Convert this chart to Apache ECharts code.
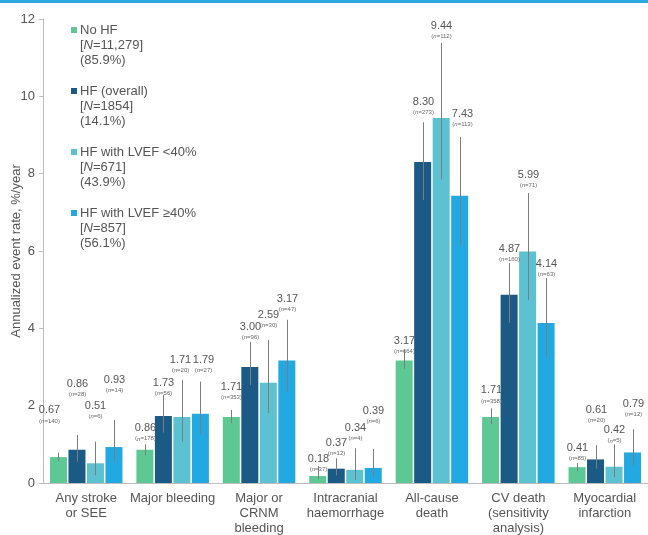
<!DOCTYPE html>
<html>
<head>
<meta charset="utf-8">
<script src="https://cdn.jsdelivr.net/npm/echarts@6/dist/echarts.min.js"></script>
<style>
  html, body { margin: 0; padding: 0; background: #ffffff; }
  #chart { width: 648px; height: 535px; }
</style>
</head>
<body>
<div id="chart"></div>
<script>
// Outcome categories on the x axis
const categories = [
  'Any stroke\nor SEE',
  'Major bleeding',
  'Major or\nCRNM\nbleeding',
  'Intracranial\nhaemorrhage',
  'All-cause\ndeath',
  'CV death\n(sensitivity\nanalysis)',
  'Myocardial\ninfarction'
];

// Patient groups (legend)
const groupNames = ['No HF', 'HF (overall)', 'HF with LVEF <40%', 'HF with LVEF \u226540%'];
const groupN = ['11,279', '1854', '671', '857'];
const groupPct = ['85.9%', '14.1%', '43.9%', '56.1%'];

// Annualized event rates, %/year
const rateNoHF = [0.67, 0.86, 1.71, 0.18, 3.17, 1.71, 0.41];
const rateHF   = [0.86, 1.73, 3.00, 0.37, 8.30, 4.87, 0.61];
const rateLow  = [0.51, 1.71, 2.59, 0.34, 9.44, 5.99, 0.42];
const rateHigh = [0.93, 1.79, 3.17, 0.39, 7.43, 4.14, 0.79];

// 95% confidence interval bounds
const ciLoNoHF = [0.57, 0.72, 1.55, 0.10, 2.95, 1.52, 0.31];
const ciHiNoHF = [0.79, 1.00, 1.89, 0.44, 3.45, 1.93, 0.52];
const ciLoHF   = [0.55, 1.30, 2.53, 0.20, 7.32, 4.14, 0.37];
const ciHiHF   = [1.24, 2.28, 3.65, 0.64, 9.33, 5.69, 0.98];
const ciLoLow  = [0.20, 1.07, 1.81, 0.08, 7.85, 4.73, 0.15];
const ciHiLow  = [1.07, 2.66, 3.70, 0.90, 11.38, 7.50, 1.00];
const ciLoHigh = [0.55, 1.24, 2.36, 0.15, 6.15, 3.25, 0.45];
const ciHiHigh = [1.63, 2.62, 4.22, 0.88, 8.95, 5.30, 1.39];

// Number of events
const eventsNoHF = [140, 178, 353, 37, 664, 358, 85];
const eventsHF   = [28, 56, 96, 12, 273, 160, 20];
const eventsLow  = [6, 20, 30, 4, 112, 71, 5];
const eventsHigh = [14, 27, 47, 6, 113, 63, 12];

// Y axis ticks
const yTicks = { min: 0, max: 12, step: 2 };

const colors = ['#5dc894', '#1a5a85', '#5cc1d1', '#22a9e1'];
const FONT = '"Liberation Sans", Arial, sans-serif';

const rates = [rateNoHF, rateHF, rateLow, rateHigh];
const ciLo = [ciLoNoHF, ciLoHF, ciLoLow, ciLoHigh];
const ciHi = [ciHiNoHF, ciHiHF, ciHiLow, ciHiHigh];
const events = [eventsNoHF, eventsHF, eventsLow, eventsHigh];

// Annotation placement: how far (px) each value label sits above its whisker,
// one row per group, one entry per outcome
const labelRise = [
  [42, 16, 23, 7, 9, 18, 15],
  [51, 12, 15, 15, 20, 14, 35],
  [36, 20, 25, 20, 17, 18, 14],
  [40, 22, 21, 38, 23, 14, 25]
];
const labelShift = [
  [-9, 0, 0, 0, 0, 0, 0],
  [0, 0, 0, 0, 0, 0, 0],
  [0, -2, 0, 0, 0, 0, 0],
  [0, 3, 0, 0, 2, 0, 0]
];

const BAR_W = 17;
const GAP = 1.5;
const PITCH = BAR_W + GAP;

const chart = echarts.init(document.getElementById('chart'), null, { renderer: 'canvas' });

const barSeries = rates.map((vals, s) => ({
  type: 'bar',
  name: groupNames[s],
  data: vals,
  barWidth: BAR_W,
  barGap: (GAP / BAR_W * 100).toFixed(2) + '%',
  barCategoryGap: '15%',
  itemStyle: { color: colors[s] },
  silent: true,
  z: 2
}));

const whiskerSeries = rates.map((vals, s) => ({
  type: 'custom',
  name: groupNames[s] + ' CI',
  silent: true,
  z: 5,
  data: vals.map((v, i) => [i, ciLo[s][i], ciHi[s][i], v, events[s][i]]),
  renderItem: function (params, api) {
    const ci = api.value(0);
    const lo = api.coord([ci, api.value(1)]);
    const hi = api.coord([ci, api.value(2)]);
    const x = Math.round(lo[0] + (s - 1.5) * PITCH) + 0.5;
    const labelY = hi[1] - labelRise[s][ci];
    const lx = x + labelShift[s][ci];
    return {
      type: 'group',
      children: [
        {
          type: 'line',
          shape: { x1: x, y1: lo[1], x2: x, y2: hi[1] },
          style: { stroke: '#7d7d7d', lineWidth: 1 }
        },
        {
          type: 'text',
          style: {
            x: lx, y: labelY,
            text: api.value(3).toFixed(2),
            align: 'center', verticalAlign: 'middle',
            fill: '#555555',
            font: '11px ' + FONT
          }
        },
        {
          type: 'text',
          style: {
            x: lx, y: labelY + 10.5,
            text: '{p|(}{i|n}{p|=' + api.value(4) + ')}',
            align: 'center', verticalAlign: 'middle',
            rich: {
              p: { fontSize: 6, fontFamily: FONT, fill: '#666666', color: '#666666' },
              i: { fontSize: 6, fontFamily: FONT, fontStyle: 'italic', fill: '#666666', color: '#666666' }
            }
          }
        }
      ]
    };
  }
}));

// Legend drawn as stacked three-line entries
const legendGraphics = [];
groupNames.forEach((name, k) => {
  const top = 30 + k * 61;
  legendGraphics.push({
    type: 'rect',
    shape: { x: 71, y: top - 3, width: 6, height: 6 },
    style: { fill: colors[k] }
  });
  legendGraphics.push({
    type: 'text',
    style: {
      x: 80, y: top - 7.5,
      text: '{t|' + name + '}\n{t|[}{it|N}{t|=' + groupN[k] + ']}\n{t|(' + groupPct[k] + ')}',
      verticalAlign: 'top',
      rich: {
        t: { fontSize: 13, fontFamily: FONT, fill: '#555555', color: '#555555', lineHeight: 15 },
        it: { fontSize: 13, fontFamily: FONT, fontStyle: 'italic', fill: '#555555', color: '#555555', lineHeight: 15 }
      }
    }
  });
});

const option = {
  animation: false,
  backgroundColor: '#ffffff',
  grid: { left: 43, right: 0, top: 19, bottom: 52, containLabel: false, outerBoundsMode: 'none' },
  xAxis: {
    type: 'category',
    data: categories,
    axisLine: { show: true, lineStyle: { color: '#bdbdbd', width: 1 } },
    axisTick: { show: false },
    axisLabel: {
      interval: 0,
      color: '#555555',
      fontSize: 13,
      fontFamily: FONT,
      lineHeight: 15,
      margin: 8
    }
  },
  yAxis: {
    type: 'value',
    min: yTicks.min,
    max: yTicks.max,
    interval: yTicks.step,
    name: 'Annualized event rate, %/year',
    nameLocation: 'middle',
    nameGap: 20,
    nameMoveOverlap: false,
    nameTextStyle: { color: '#555555', fontSize: 13, fontFamily: FONT },
    axisLine: { show: true, lineStyle: { color: '#bdbdbd', width: 1 } },
    axisTick: { show: true, length: 4, lineStyle: { color: '#bdbdbd' } },
    axisLabel: { color: '#555555', fontSize: 13, fontFamily: FONT, margin: 8 },
    splitLine: { show: false }
  },
  graphic: [
    { type: 'rect', shape: { x: 0, y: 0, width: 648, height: 3 }, style: { fill: '#29a9e0' }, z: 100 }
  ].concat(legendGraphics),
  series: barSeries.concat(whiskerSeries)
};

chart.setOption(option);
</script>
</body>
</html>
